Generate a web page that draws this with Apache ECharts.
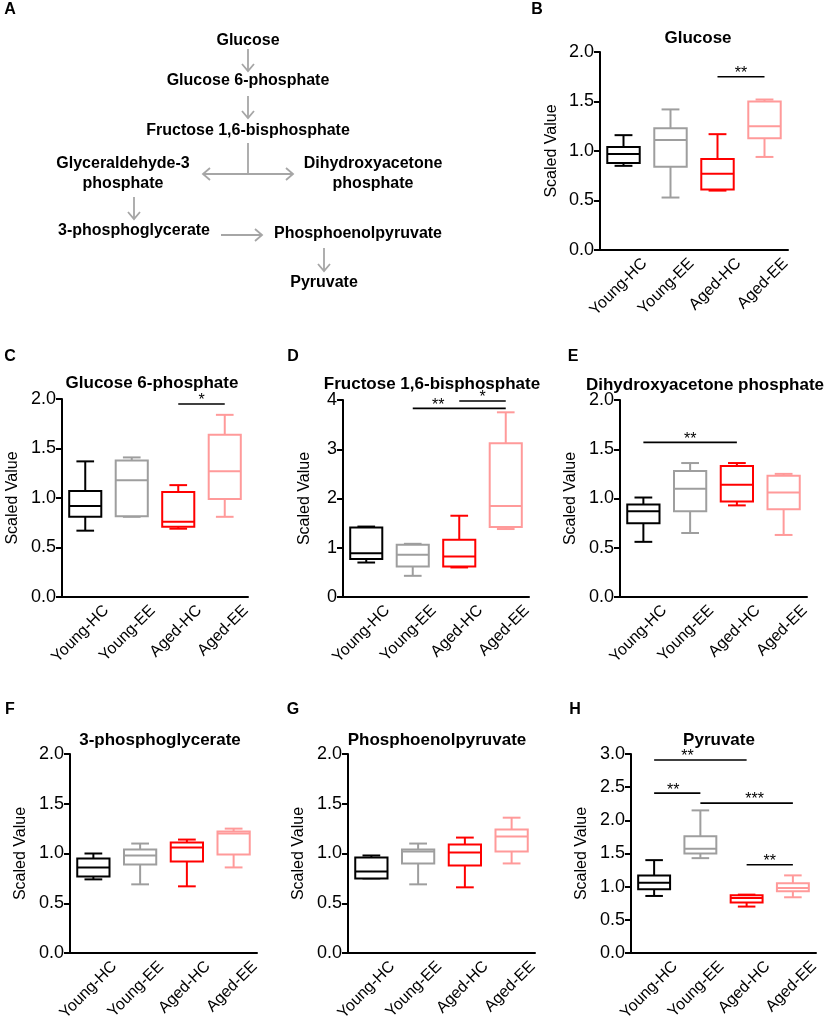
<!DOCTYPE html>
<html><head><meta charset="utf-8">
<script src="https://cdn.jsdelivr.net/npm/echarts@6/dist/echarts.min.js"></script>
<style>html,body{margin:0;padding:0;background:#fff}#c{width:829px;height:1019px}</style>
</head><body><div id="c"></div>
<script>
// ---------- DATA ----------
const categories = ['Young-HC', 'Young-EE', 'Aged-HC', 'Aged-EE'];
// each box: [min, Q1, median, Q3, max]
const glucose  = [[0.85,0.88,0.97,1.04,1.16],[0.53,0.84,1.11,1.23,1.42],[0.60,0.61,0.77,0.92,1.17],[0.94,1.13,1.25,1.50,1.52]];
const g6p      = [[0.67,0.81,0.92,1.07,1.37],[0.81,0.815,1.18,1.38,1.41],[0.69,0.71,0.76,1.06,1.13],[0.81,0.99,1.27,1.64,1.84]];
const f16bp    = [[0.70,0.77,0.89,1.41,1.43],[0.43,0.62,0.86,1.06,1.08],[0.60,0.62,0.82,1.16,1.65],[1.38,1.42,1.85,3.12,3.75]];
const dhap     = [[0.56,0.75,0.87,0.94,1.01],[0.65,0.87,1.10,1.28,1.36],[0.93,0.97,1.14,1.33,1.36],[0.63,0.89,1.06,1.23,1.25]];
const pg3      = [[0.74,0.77,0.86,0.95,1.00],[0.69,0.89,0.98,1.04,1.10],[0.67,0.92,1.06,1.11,1.14],[0.86,0.99,1.20,1.22,1.25]];
const pep      = [[0.75,0.75,0.82,0.96,0.98],[0.69,0.90,1.02,1.04,1.10],[0.66,0.88,1.01,1.09,1.16],[0.90,1.02,1.17,1.24,1.36]];
const pyruvate = [[0.86,0.96,1.06,1.17,1.40],[1.43,1.50,1.57,1.76,2.15],[0.70,0.76,0.83,0.87,0.88],[0.84,0.93,0.98,1.05,1.17]];
// significance: [fromCategoryIndex, toCategoryIndex, yValue, stars]
const glucoseSig  = [[2, 3, 1.75, '**']];
const g6pSig      = [[2, 3, 1.95, '*']];
const f16bpSig    = [[1, 3, 3.83, '**'], [2, 3, 3.98, '*']];
const dhapSig     = [[0, 2, 1.57, '**']];
const pg3Sig      = [];
const pepSig      = [];
const pyruvateSig = [[0, 2, 2.91, '**'], [0, 1, 2.41, '**'], [1, 3, 2.26, '***'], [2, 3, 1.33, '**']];
// y axes: [min, max, interval]
const scale2 = [0, 2, 0.5];
const scale4 = [0, 4, 1];
const scale3 = [0, 3, 0.5];
const titles = ['Glucose', 'Glucose 6-phosphate', 'Fructose 1,6-bisphosphate', 'Dihydroxyacetone phosphate', '3-phosphoglycerate', 'Phosphoenolpyruvate', 'Pyruvate'];
const panelLetters = ['B', 'C', 'D', 'E', 'F', 'G', 'H'];
const pathwayNodes = ['Glucose', 'Glucose 6-phosphate', 'Fructose 1,6-bisphosphate', 'Glyceraldehyde-3\nphosphate', 'Dihydroxyacetone\nphosphate', '3-phosphoglycerate', 'Phosphoenolpyruvate', 'Pyruvate'];

// ---------- STYLE / LAYOUT ----------
const colors = ['#000000', '#9e9e9e', '#ff0000', '#ff9a9a'];
const FONT = '"Liberation Sans", Arial, Helvetica, sans-serif';
const panels = [
  {data: glucose,  sig: glucoseSig,  scale: scale2, dec: 1, grid: [600, 52, 188, 198], title: [698, 38], letter: [537, 10], gap: 40, starShift: [0]},
  {data: g6p,      sig: g6pSig,      scale: scale2, dec: 1, grid: [62, 399, 186, 198], title: [152, 383], letter: [10, 357], gap: 41, starShift: [0]},
  {data: f16bp,    sig: f16bpSig,    scale: scale4, dec: 0, grid: [343, 400, 186, 197], title: [432, 384], letter: [293, 357], gap: 30, starShift: [-21, 0]},
  {data: dhap,     sig: dhapSig,     scale: scale2, dec: 1, grid: [620, 400, 187, 197], title: [705, 385], letter: [573, 357], gap: 41, starShift: [0]},
  {data: pg3,      sig: pg3Sig,      scale: scale2, dec: 1, grid: [70, 754, 187, 199], title: [160, 740], letter: [10, 710], gap: 41, starShift: []},
  {data: pep,      sig: pepSig,      scale: scale2, dec: 1, grid: [348, 754, 187, 199], title: [437, 740], letter: [293, 710], gap: 41, starShift: []},
  {data: pyruvate, sig: pyruvateSig, scale: scale3, dec: 1, grid: [631, 754, 185, 199], title: [719, 740], letter: [575, 710], gap: 41, starShift: [-13, -4, 8, 0]}
];

const chart = echarts.init(document.getElementById('c'), null, {renderer: 'canvas'});

function boxRender(params, api) {
  const i = api.value(0);
  const ys = [1, 2, 3, 4, 5].map(k => api.coord([i, api.value(k)])[1]);
  const x = api.coord([i, 0])[0];
  const band = api.size([1, 0])[0];
  const bw = band * 0.345, cw = band * 0.19;
  const c = colors[i];
  const st = {stroke: c, lineWidth: 2, fill: null};
  const [yMin, yQ1, yMed, yQ3, yMax] = ys;
  return {type: 'group', children: [
    {type: 'line', shape: {x1: x, y1: yQ3, x2: x, y2: yMax}, style: st},
    {type: 'line', shape: {x1: x, y1: yQ1, x2: x, y2: yMin}, style: st},
    {type: 'line', shape: {x1: x - cw, y1: yMax, x2: x + cw, y2: yMax}, style: st},
    {type: 'line', shape: {x1: x - cw, y1: yMin, x2: x + cw, y2: yMin}, style: st},
    {type: 'rect', shape: {x: x - bw, y: yQ3, width: 2 * bw, height: yQ1 - yQ3}, style: {stroke: c, lineWidth: 2, fill: '#fff'}},
    {type: 'line', shape: {x1: x - bw, y1: yMed, x2: x + bw, y2: yMed}, style: st}
  ]};
}

function makeSigRender(sig, shifts) {
  return function (params, api) {
    const a = api.coord([api.value(0), api.value(2)]);
    const b = api.coord([api.value(1), api.value(2)]);
    const sh = shifts[params.dataIndex] || 0;
    return {type: 'group', children: [
      {type: 'line', shape: {x1: a[0], y1: a[1], x2: b[0], y2: a[1]}, style: {stroke: '#000', lineWidth: 1.6}},
      {type: 'text', x: (a[0] + b[0]) / 2 + sh, y: a[1] - 3,
       style: {text: sig[params.dataIndex][3], align: 'center', verticalAlign: 'middle', font: '16px ' + FONT, fill: '#000'}}
    ]};
  };
}

const grids = [], xAxes = [], yAxes = [], series = [], graphics = [];
panels.forEach((p, k) => {
  grids.push({left: p.grid[0], top: p.grid[1], width: p.grid[2], height: p.grid[3], containLabel: false, outerBoundsMode: 'none'});
  xAxes.push({
    gridIndex: k, type: 'category', data: categories, boundaryGap: true,
    axisLine: {lineStyle: {color: '#000', width: 2}},
    axisTick: {alignWithLabel: true, length: 6, lineStyle: {color: '#000', width: 2}},
    axisLabel: {show: false}
  });
  yAxes.push({
    gridIndex: k, type: 'value', min: p.scale[0], max: p.scale[1], interval: p.scale[2],
    axisLine: {show: true, lineStyle: {color: '#000', width: 2}},
    axisTick: {show: true, length: 6, lineStyle: {color: '#000', width: 2}},
    splitLine: {show: false},
    axisLabel: {color: '#000', fontSize: 18, fontFamily: FONT, margin: 6, formatter: v => v.toFixed(p.dec)},
    name: 'Scaled Value', nameLocation: 'middle', nameGap: p.gap,
    nameTextStyle: {color: '#000', fontSize: 16, fontFamily: FONT}
  });
  series.push({
    type: 'custom', xAxisIndex: k, yAxisIndex: k, renderItem: boxRender,
    encode: {x: 0, y: [1, 2, 3, 4, 5]}, clip: false,
    data: p.data.map((v, i) => [i].concat(v))
  });
  if (p.sig.length) {
    series.push({
      type: 'custom', xAxisIndex: k, yAxisIndex: k, renderItem: makeSigRender(p.sig, p.starShift),
      encode: {x: [0, 1], y: 2}, clip: false,
      data: p.sig.map(s => [s[0], s[1], s[2]])
    });
  }
  graphics.push({type: 'text', x: p.title[0], y: p.title[1],
    style: {text: titles[k], align: 'center', verticalAlign: 'middle', font: 'bold 17px ' + FONT, fill: '#000'}});
  graphics.push({type: 'text', x: p.letter[0], y: p.letter[1],
    style: {text: panelLetters[k], align: 'center', verticalAlign: 'middle', font: 'bold 16px ' + FONT, fill: '#000'}});
});

// ---------- Panel A: pathway diagram ----------
const AC = '#a6a6a6';
const nodePos = [[248, 41], [248, 81], [248, 131], [123, 174], [373, 174], [134, 231], [358, 234], [324, 283]];
graphics.push({type: 'text', x: 10, y: 10, style: {text: 'A', align: 'center', verticalAlign: 'middle', font: 'bold 16px ' + FONT, fill: '#000'}});
pathwayNodes.forEach((t, i) => {
  graphics.push({type: 'text', x: nodePos[i][0], y: nodePos[i][1],
    style: {text: t, align: 'center', verticalAlign: 'middle', font: 'bold 16px ' + FONT, fill: '#000', lineHeight: 20}});
});
const ast = {stroke: AC, lineWidth: 1.8, fill: null};
function arrowDown(x, y1, y2) {
  graphics.push({type: 'line', shape: {x1: x, y1: y1, x2: x, y2: y2}, style: ast});
  graphics.push({type: 'polyline', shape: {points: [[x - 6, y2 - 7], [x, y2], [x + 6, y2 - 7]]}, style: ast});
}
function arrowRight(x1, x2, y) {
  graphics.push({type: 'line', shape: {x1: x1, y1: y, x2: x2, y2: y}, style: ast});
  graphics.push({type: 'polyline', shape: {points: [[x2 - 7, y - 6], [x2, y], [x2 - 7, y + 6]]}, style: ast});
}
function arrowLeft(x1, x2, y) {
  graphics.push({type: 'line', shape: {x1: x1, y1: y, x2: x2, y2: y}, style: ast});
  graphics.push({type: 'polyline', shape: {points: [[x1 + 7, y - 6], [x1, y], [x1 + 7, y + 6]]}, style: ast});
}
arrowDown(248, 49, 71);
arrowDown(248, 96, 118);
graphics.push({type: 'line', shape: {x1: 248, y1: 143, x2: 248, y2: 174}, style: ast});
arrowLeft(203, 248, 174);
arrowRight(248, 293, 174);
arrowDown(134, 197, 219);
arrowRight(221, 262, 235);
arrowDown(324, 248, 271);

chart.setOption({
  animation: false,
  backgroundColor: '#fff',
  grid: grids, xAxis: xAxes, yAxis: yAxes, series: series,
  graphic: graphics
});

// rotated category labels placed from the category axes' own pixel mapping
panels.forEach((p, k) => {
  categories.forEach((c, i) => {
    const pt = chart.convertToPixel({gridIndex: k}, [i, p.scale[0]]);
    graphics.push({type: 'text', x: pt[0] + 21, y: pt[1] + 11, rotation: Math.PI / 4,
      style: {text: c, align: 'right', verticalAlign: 'middle', font: '16px ' + FONT, fill: '#000'}});
  });
});
chart.setOption({graphic: graphics});
</script></body></html>
